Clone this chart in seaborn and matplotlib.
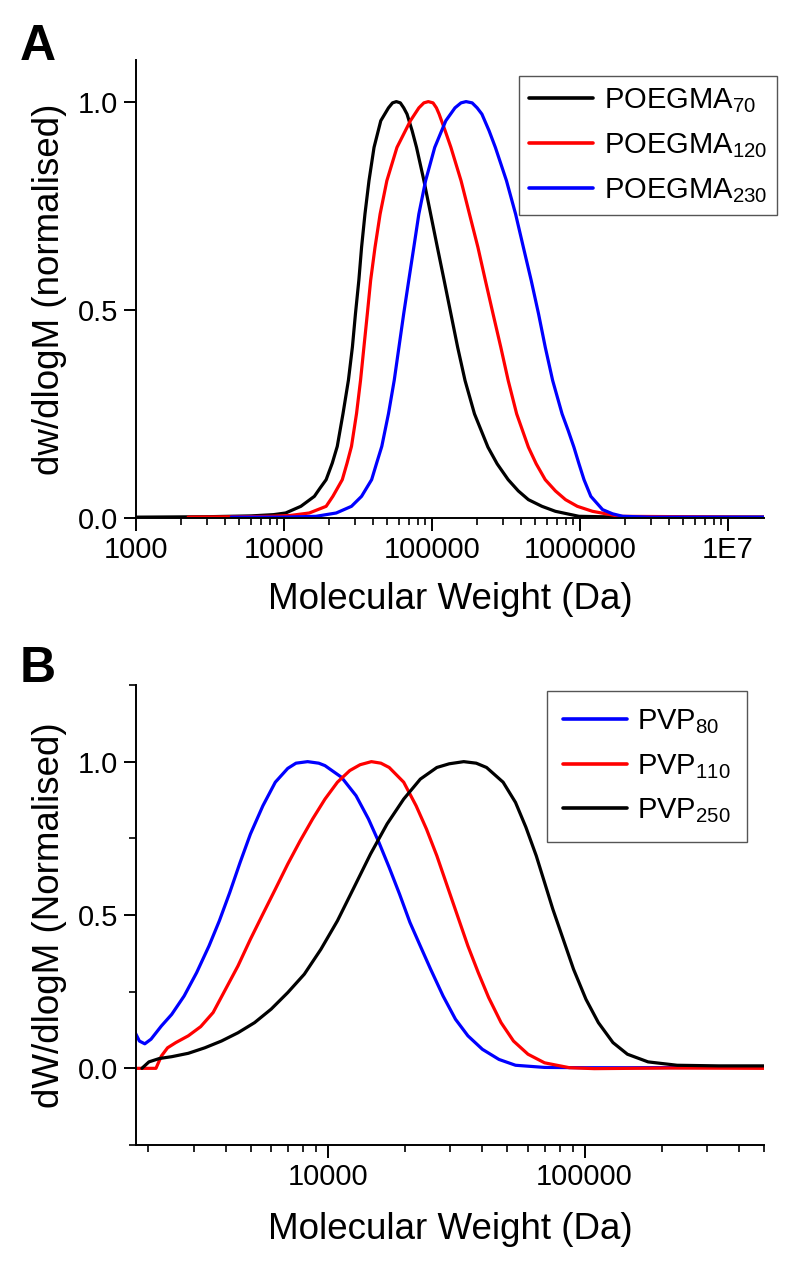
import numpy as np
import pandas as pd
import matplotlib
matplotlib.use('Agg')
import matplotlib.pyplot as plt
import seaborn as sns
from matplotlib.ticker import FixedLocator, NullFormatter

# ---- panel A : POEGMA GPC traces ----
poegma70_mw = [1000, 3000, 6000, 8500, 10260, 13000, 16040, 17540, 19260, 21200, 22900, 25050, 27240, 28990,
               30400, 32040, 33420, 35230, 37510, 40570, 45060, 50800, 54100, 57400, 61100, 64400, 67800,
               73400, 78600, 88200, 97900, 108700, 120700, 134200, 149000, 167200, 193600, 238800, 275500,
               327000, 382700, 448000, 553000, 682000, 984000, 2000000, 17500000]
poegma70_w = [0.002, 0.003, 0.005, 0.008, 0.012, 0.028, 0.052, 0.072, 0.092, 0.132, 0.172, 0.251, 0.331, 0.411,
              0.491, 0.571, 0.650, 0.730, 0.810, 0.890, 0.954, 0.985, 0.997, 1.0, 0.997, 0.985, 0.97,
              0.93, 0.89, 0.81, 0.73, 0.65, 0.571, 0.49, 0.41, 0.33, 0.25, 0.17, 0.13,
              0.092, 0.065, 0.044, 0.028, 0.016, 0.004, 0.002, 0.002]

poegma120_mw = [2250, 5000, 8000, 11000, 14830, 19260, 21380, 23010, 24760, 26680, 28570, 30910, 32900, 34680,
                36570, 38500, 41200, 44600, 49530, 57960, 71450, 81500, 88100, 94400, 101600, 107100, 111700,
                122700, 134200, 157100, 179100, 204300, 229200, 258500, 291600, 327200, 373200, 448000,
                505800, 582000, 682000, 798000, 959000, 1214000, 1848000, 17500000]
poegma120_w = [0.002, 0.003, 0.004, 0.006, 0.012, 0.028, 0.052, 0.072, 0.092, 0.132, 0.172, 0.251, 0.331, 0.411,
               0.491, 0.571, 0.65, 0.73, 0.81, 0.89, 0.954, 0.985, 0.997, 1.0, 0.997, 0.985, 0.97,
               0.93, 0.89, 0.81, 0.73, 0.65, 0.571, 0.49, 0.41, 0.33, 0.25, 0.17,
               0.13, 0.092, 0.065, 0.044, 0.028, 0.016, 0.004, 0.002]

poegma230_mw = [4400, 10000, 13000, 16440, 22540, 28570, 33420, 36140, 39090, 42270, 45780, 50830, 55570, 59820,
                64400, 69650, 75330, 81470, 90500, 104300, 123900, 142900, 157000, 169800, 186700, 201800,
                217300, 243000, 268000, 318500, 367000, 414300, 467600, 524700, 582400, 653500, 756500,
                831900, 909400, 984000, 1064000, 1183000, 1421000, 1660000, 1945000, 3000000, 17500000]
poegma230_w = [0.002, 0.002, 0.003, 0.004, 0.012, 0.028, 0.052, 0.072, 0.092, 0.132, 0.172, 0.251, 0.331, 0.411,
               0.491, 0.571, 0.65, 0.73, 0.81, 0.89, 0.954, 0.985, 0.997, 1.0, 0.997, 0.985,
               0.97, 0.93, 0.89, 0.81, 0.73, 0.65, 0.571, 0.49, 0.41, 0.33, 0.25,
               0.21, 0.17, 0.13, 0.092, 0.052, 0.02, 0.01, 0.004, 0.002, 0.002]

# ---- panel B : PVP GPC traces ----
pvp80_mw = [1778, 1845, 1937, 2048, 2247, 2466, 2757, 3083, 3445, 3780, 4149, 4552, 4995, 5585, 6244,
            6981, 7516, 8343, 9220, 9750, 11310, 12880, 14400, 15810, 17340, 19030, 20880, 22920, 25150,
            28110, 31430, 35130, 40010, 46420, 53850, 69860, 101300, 146900, 332600]
pvp80_w = [0.116, 0.089, 0.080, 0.095, 0.138, 0.176, 0.236, 0.312, 0.399, 0.481, 0.573, 0.671, 0.764,
           0.856, 0.933, 0.978, 0.995, 1.0, 0.995, 0.987, 0.949, 0.889, 0.813, 0.737, 0.655, 0.568,
           0.476, 0.399, 0.323, 0.236, 0.160, 0.106, 0.062, 0.029, 0.010, 0.003, 0.002, 0.002, 0.003]

pvp110_mw = [1778, 2141, 2247, 2376, 2559, 2861, 3198, 3575, 3997, 4468, 4995, 5585, 6244, 6981, 7804,
             8724, 9750, 10900, 12180, 13360, 14780, 16100, 17340, 19750, 22080, 24230, 26590, 29170,
             32010, 35130, 38550, 42300, 47300, 52870, 60220, 69860, 87300, 109100, 213000, 500000]
pvp110_w = [0.0, 0.0, 0.040, 0.067, 0.084, 0.106, 0.136, 0.182, 0.258, 0.334, 0.421, 0.503, 0.584,
            0.666, 0.742, 0.813, 0.878, 0.933, 0.971, 0.99, 1.0, 0.995, 0.981, 0.933, 0.856, 0.780,
            0.693, 0.595, 0.497, 0.399, 0.312, 0.231, 0.149, 0.089, 0.046, 0.018, 0.002, -0.001, 0.001, 0.0]

pvp250_mw = [1887, 2010, 2206, 2466, 2861, 3319, 3852, 4468, 5184, 6015, 6981, 8099, 9395, 10900,
             12650, 14670, 17020, 19750, 22920, 26590, 29700, 33840, 37850, 41520, 48170, 53840, 59100,
             64850, 69860, 75240, 82570, 90600, 101300, 113200, 129000, 146900, 176800, 229400, 332600,
             500000]
pvp250_w = [0.0, 0.021, 0.032, 0.038, 0.049, 0.067, 0.089, 0.116, 0.149, 0.193, 0.247, 0.307, 0.388,
            0.481, 0.590, 0.699, 0.797, 0.878, 0.943, 0.981, 0.993, 1.0, 0.995, 0.981, 0.933, 0.867,
            0.786, 0.693, 0.606, 0.519, 0.421, 0.323, 0.225, 0.149, 0.084, 0.046, 0.021, 0.010, 0.008,
            0.008]

labels_a = ['POEGMA$_{70}$', 'POEGMA$_{120}$', 'POEGMA$_{230}$']
labels_b = ['PVP$_{80}$', 'PVP$_{110}$', 'PVP$_{250}$']


def to_frame(series, labels):
    parts = []
    for (mw, w), lab in zip(series, labels):
        parts.append(pd.DataFrame({'mw': mw, 'w': w, 'sample': lab}))
    return pd.concat(parts, ignore_index=True)


df_a = to_frame([(poegma70_mw, poegma70_w), (poegma120_mw, poegma120_w), (poegma230_mw, poegma230_w)], labels_a)
df_b = to_frame([(pvp80_mw, pvp80_w), (pvp110_mw, pvp110_w), (pvp250_mw, pvp250_w)], labels_b)

sns.set_style('ticks')
plt.rcParams['font.family'] = ['Liberation Sans', 'DejaVu Sans']
plt.rcParams['mathtext.fontset'] = 'custom'
plt.rcParams['mathtext.rm'] = 'Liberation Sans'
plt.rcParams['mathtext.default'] = 'regular'
for key in ('text.color', 'axes.labelcolor', 'xtick.color', 'ytick.color', 'axes.edgecolor'):
    plt.rcParams[key] = 'black'

fig = plt.figure(figsize=(8, 12.68), dpi=100)
ax_a = fig.add_axes([0.17, 0.5915, 0.785, 0.3612])
ax_b = fig.add_axes([0.17, 0.0970, 0.785, 0.3628])

pal_a = dict(zip(labels_a, ['black', 'red', 'blue']))
pal_b = dict(zip(labels_b, ['blue', 'red', 'black']))

sns.lineplot(data=df_a, x='mw', y='w', hue='sample', palette=pal_a, hue_order=labels_a,
             sort=False, lw=2.3, ax=ax_a)
sns.lineplot(data=df_b, x='mw', y='w', hue='sample', palette=pal_b, hue_order=labels_b,
             sort=False, lw=2.3, ax=ax_b)

for ax in (ax_a, ax_b):
    ax.set_xscale('log')
    sns.despine(ax=ax)
    for s in ('left', 'bottom'):
        ax.spines[s].set_linewidth(1.4)
    ax.tick_params(which='major', direction='out', length=9, width=1.4, labelsize=21, pad=4)
    ax.tick_params(which='minor', direction='out', length=5, width=1.2)
    ax.set_yticks([0.0, 0.5, 1.0])
    ax.set_yticklabels(['0.0', '0.5', '1.0'])

# panel A axes
ax_a.set_xlim(1000, 1.75e7)
ax_a.set_ylim(0, 1.1)
ax_a.xaxis.set_major_locator(FixedLocator([1e3, 1e4, 1e5, 1e6, 1e7]))
ax_a.set_xticklabels(['1000', '10000', '100000', '1000000', '1E7'])
ax_a.xaxis.set_minor_locator(FixedLocator([m * 10 ** d for d in range(3, 8) for m in range(2, 10)]))
ax_a.xaxis.set_minor_formatter(NullFormatter())
ax_a.set_xlabel('Molecular Weight (Da)', fontsize=26.5)
ax_a.set_ylabel('dw/dlogM (normalised)', fontsize=26.5)
ax_a.xaxis.set_label_coords(0.5, -0.14)
ax_a.yaxis.set_label_coords(-0.11, 0.5)

# panel B axes
ax_b.set_xlim(1790, 5.0e5)
ax_b.set_ylim(-0.25, 1.25)
ax_b.xaxis.set_major_locator(FixedLocator([1e4, 1e5]))
ax_b.set_xticklabels(['10000', '100000'])
ax_b.xaxis.set_minor_locator(FixedLocator([m * 10 ** d for d in range(3, 6) for m in range(2, 10)]))
ax_b.xaxis.set_minor_formatter(NullFormatter())
ax_b.yaxis.set_minor_locator(FixedLocator([-0.25, 0.25, 0.75, 1.25]))
ax_b.set_xlabel('Molecular Weight (Da)', fontsize=26.5)
ax_b.set_ylabel('dW/dlogM (Normalised)', fontsize=26.5)
ax_b.xaxis.set_label_coords(0.5, -0.145)
ax_b.yaxis.set_label_coords(-0.11, 0.5)

# legends
leg_kw = dict(title=None, frameon=True, fancybox=False, framealpha=1, edgecolor='#555555',
              fontsize=21, handlelength=2.2, handletextpad=0.35, labelspacing=0.55, borderaxespad=0)
sns.move_legend(ax_a, 'upper right', bbox_to_anchor=(1.021, 0.965), borderpad=0.35, **leg_kw)
sns.move_legend(ax_b, 'upper right', bbox_to_anchor=(0.973, 0.987), borderpad=0.55, **leg_kw)
for ax in (ax_a, ax_b):
    leg = ax.get_legend()
    leg.get_frame().set_linewidth(1.0)
    for h in leg.get_lines():
        h.set_linewidth(2.6)

fig.text(0.025, 0.9527, 'A', fontsize=36, fontweight='bold', va='baseline')
fig.text(0.025, 0.4621, 'B', fontsize=36, fontweight='bold', va='baseline')

fig.savefig('out.png', dpi=100)
